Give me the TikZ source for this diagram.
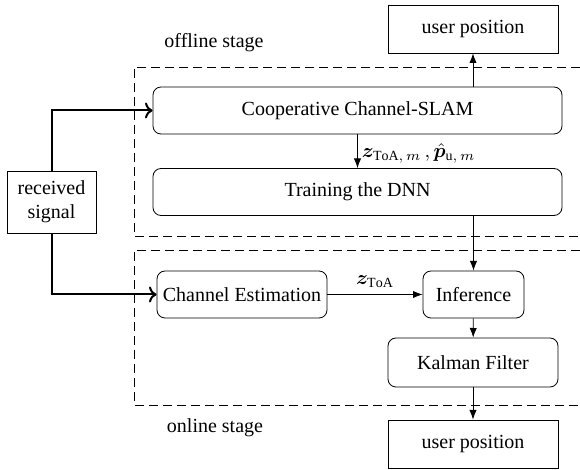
\documentclass[tikz,border=0pt]{standalone}
\usepackage{fontspec}
\setmainfont{Liberation Serif}
\usepackage{amsmath,bm}
\usetikzlibrary{arrows.meta}

\tikzset{
  blk/.style={draw,rounded corners=4pt,inner sep=0pt,minimum height=23.5pt},
  outbox/.style={draw,inner sep=0pt,minimum width=85pt,minimum height=24pt},
  stagebox/.style={dash pattern=on 4.5pt off 2.5pt},
}

\begin{document}
\begin{tikzpicture}[x=0.5pt,y=-0.5pt,>=Latex]
\useasboundingbox (0,0) rectangle (580,470);
\coordinate (R) at (51.5,202); \coordinate (C) at (357.5,110.5); \coordinate (T) at (357.5,192);
\coordinate (E) at (242,294.5); \coordinate (I) at (473.5,294.5); \coordinate (K) at (473,362.5);
\coordinate (U) at (473,29); \coordinate (V) at (473,444);
% stages
\draw[stagebox] (580,67)--(134,67)--(134,236)--(580,236);
\draw[stagebox] (580,250)--(134,250)--(134,405)--(580,405);
\foreach \p/\t in {(214,43)/offline stage,(215,428)/online stage}{\node at \p {\t};}
% blocks
\node[draw,inner sep=0pt,minimum width=44.5pt,minimum height=31pt,align=center] (rx) at (R) {received\\signal};
\node[blk,minimum width=204.5pt] (coop) at (C) {Cooperative Channel-SLAM};
\node[blk,minimum width=204.5pt] (train) at (T) {Training the DNN};
\node[blk,minimum width=85pt] (est) at (E) {Channel Estimation};
\node[blk,minimum width=50.5pt] (inf) at (I) {Inference};
\node[blk,minimum width=85pt,minimum height=24.5pt] (kf) at (K) {Kalman Filter};
\node[outbox] (posoff) at (U) {user position};
\node[outbox] (poson) at (V) {user position};
% connections
\draw[line width=1pt,-{To}] (rx.north) |- (coop.west);
\draw[line width=1pt,-{To}] (rx.south) |- (est.west);
\draw[->] (coop.south) -- (train.north) node[midway,right,inner sep=2pt,yshift=-1pt] {$\bm{z}_{\mathrm{ToA},\,m}\,,\hat{\bm{p}}_{\mathrm{u},\,m}$};
\draw[->] (posoff |- coop.north) -- (posoff.south);
\draw[->] (train.south -| inf.north) -- (inf.north);
\draw[->] (est.east) -- (inf.west) node[midway,above] {$\bm{z}_{\mathrm{ToA}}$};
\draw[->] (inf) -- (kf);
\draw[->] (kf) -- (poson);
\end{tikzpicture}
\end{document}
